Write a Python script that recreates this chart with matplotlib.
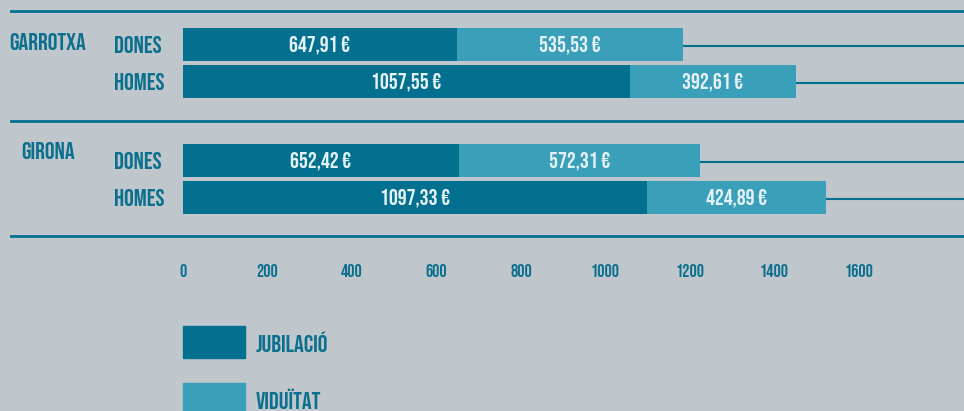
import matplotlib.pyplot as plt
from matplotlib.patches import Rectangle

# data
regions = ['GARROTXA', 'GIRONA']
sexes = ['DONES', 'HOMES']
jubilacio = [647.91, 1057.55, 652.42, 1097.33]
viduitat = [535.53, 392.61, 572.31, 424.89]
tick_values = [0, 200, 400, 600, 800, 1000, 1200, 1400, 1600]
series_names = ['JUBILACIÓ', 'VIDUÏTAT']

BG = '#bfc7cc'
DARK = '#03708f'
LIGHT = '#3a9fb8'
TXT = '#0b6f8e'
VAL = '#e4f2f7'

plt.rcParams['font.family'] = ['Bebas Neue', 'Barlow Condensed', 'DejaVu Sans']
plt.rcParams['font.weight'] = 'bold'


def euro(v):
    return f"{v:.2f}".replace('.', ',') + ' €'


def main():
    fig = plt.figure(figsize=(9.64, 4.11), dpi=100, facecolor=BG)
    ax = fig.add_axes([0, 0, 1, 1])
    ax.set_facecolor(BG)
    scale = 0.4225  # px per euro
    ax.set_xlim(-183 / scale, (964 - 183) / scale)
    ax.set_ylim(411, 0)
    ax.axis('off')

    # layout (pixel rows)
    bar_y = [44.5, 81.5, 160.5, 197.5]
    bar_h = 33
    region_y = [42, 150]

    totals = [j + v for j, v in zip(jubilacio, viduitat)]
    ax.barh(bar_y, jubilacio, height=bar_h, color=DARK)
    ax.barh(bar_y, viduitat, left=jubilacio, height=bar_h, color=LIGHT)
    for y, j, v, t in zip(bar_y, jubilacio, viduitat, totals):
        ax.text(j / 2, y, euro(j), color=VAL, fontsize=16, ha='center', va='center')
        ax.text(j + v / 2, y, euro(v), color=VAL, fontsize=16, ha='center', va='center')
        ax.hlines(y + 1.5, t, 964 / scale, color=DARK, lw=1.5)

    # row and group labels
    for i, y in enumerate(bar_y):
        ax.text(-69 / scale, y, sexes[i % 2], color=TXT, fontsize=17.5,
                ha='left', va='center')
    for r, y in zip(regions, region_y):
        ax.text(-135 / scale, y, r, color=TXT, fontsize=17.5, ha='center', va='center')

    # separator lines
    for y in [11.5, 121.5, 236]:
        ax.axhline(y, xmin=11 / 964, xmax=1, color=DARK, lw=2)

    # tick labels
    for t in tick_values:
        ax.text(t, 270, str(t), color=TXT, fontsize=13, ha='center', va='center')

    # legend
    for name, col, y in zip(series_names, [DARK, LIGHT], [342, 399]):
        ax.add_patch(Rectangle((0, y - 16), 62 / scale, 32, color=col))
        ax.text(73 / scale, y, name, color=TXT, fontsize=17.5, ha='left', va='center')

    fig.savefig('out.png', dpi=100, facecolor=BG)


if __name__ == "__main__":
    main()
